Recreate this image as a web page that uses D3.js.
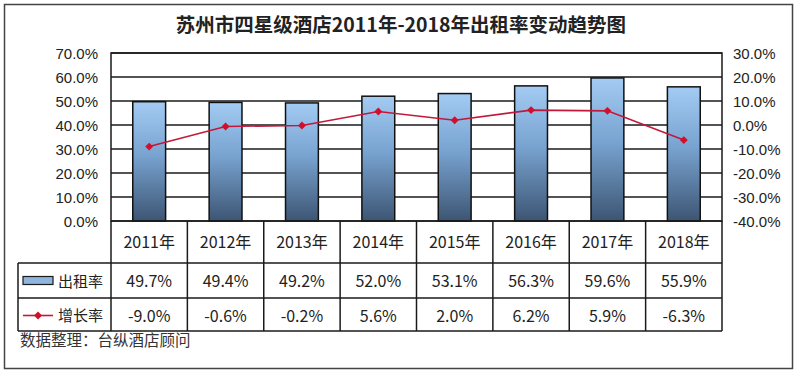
<!DOCTYPE html>
<html>
<head>
<meta charset="utf-8">
<script src="https://cdn.jsdelivr.net/npm/d3@7"></script>
<style>
  body { margin: 0; background: #fff; }
  text { font-family: "Liberation Sans", Arial, sans-serif; fill: #222; }
  .cjk { font-family: "Noto Sans CJK SC", sans-serif; }
</style>
</head>
<body>
<div id="chart"></div>
<script>
let years = ["2011年", "2012年", "2013年", "2014年", "2015年", "2016年", "2017年", "2018年"];
let occupancy = [49.7, 49.4, 49.2, 52.0, 53.1, 56.3, 59.6, 55.9];
let growth = [-9.0, -0.6, -0.2, 5.6, 2.0, 6.2, 5.9, -6.3];
let leftTicks = [0, 10, 20, 30, 40, 50, 60, 70];
let rightTicks = [-40, -30, -20, -10, 0, 10, 20, 30];
let seriesNames = ["出租率", "增长率"];
let title = "苏州市四星级酒店2011年-2018年出租率变动趋势图";
let source = "数据整理：台纵酒店顾问";

let W = 800, H = 376;
let plot = {left: 111, right: 722, top: 53, bottom: 221};
let rowH = [42, 35, 33];
let tableLeft = 18;

let svg = d3.select("#chart").append("svg")
    .attr("width", W)
    .attr("height", H);

let defs = svg.append("defs");
let grad = defs.append("linearGradient")
    .attr("id", "barGrad")
    .attr("x1", 0).attr("y1", 0).attr("x2", 0).attr("y2", 1);
grad.append("stop").attr("offset", "0%").attr("stop-color", "#a3cbf3");
grad.append("stop").attr("offset", "45%").attr("stop-color", "#78a3d0");
grad.append("stop").attr("offset", "100%").attr("stop-color", "#3d5573");

// outer frame
svg.append("rect")
    .attr("x", 4.5).attr("y", 4.5)
    .attr("width", 788).attr("height", 364)
    .attr("fill", "#fff")
    .attr("stroke", "#444")
    .attr("stroke-width", 1.5);

svg.append("text")
    .attr("class", "cjk")
    .attr("x", 401)
    .attr("y", 32)
    .attr("text-anchor", "middle")
    .style("font-size", "19.5px")
    .style("font-weight", "bold")
    .text(title);

let x = d3.scaleBand()
    .domain(years)
    .range([plot.left, plot.right])
    .paddingInner(0.57)
    .paddingOuter(0.285);

let slot = d3.scaleBand()
    .domain(years)
    .range([plot.left, plot.right]);

let y = d3.scaleLinear()
    .domain([0, 70])
    .range([plot.bottom, plot.top]);

let y2 = d3.scaleLinear()
    .domain([-40, 30])
    .range([plot.bottom, plot.top]);

// gridlines
svg.append("g")
    .selectAll("line")
    .data(leftTicks)
    .enter()
    .append("line")
    .attr("x1", plot.left)
    .attr("x2", plot.right)
    .attr("y1", d => y(d))
    .attr("y2", d => y(d))
    .attr("stroke", "#1a1a1a")
    .attr("stroke-width", 1.4);

// left axis
let axL = svg.append("g")
    .attr("transform", "translate(" + plot.left + ",0)")
    .call(d3.axisLeft(y).tickValues(leftTicks).tickSize(0).tickPadding(13)
        .tickFormat(d => d.toFixed(1) + "%"));
axL.select(".domain").remove();
axL.selectAll("text").style("font-size", "15px").style("fill", "#222").attr("dy", "0.35em");

// right axis
let axR = svg.append("g")
    .attr("transform", "translate(" + plot.right + ",0)")
    .call(d3.axisRight(y2).tickValues(rightTicks).tickSize(0).tickPadding(11)
        .tickFormat(d => d.toFixed(1) + "%"));
axR.select(".domain").remove();
axR.selectAll("text").style("font-size", "15px").style("fill", "#222").attr("dy", "0.35em");

// bars
svg.append("g")
    .selectAll("rect")
    .data(occupancy)
    .enter()
    .append("rect")
    .attr("x", (d, i) => x(years[i]))
    .attr("y", d => y(d))
    .attr("width", x.bandwidth())
    .attr("height", d => y(0) - y(d))
    .attr("fill", "url(#barGrad)")
    .attr("stroke", "#111")
    .attr("stroke-width", 1.5);

// growth line
let line = d3.line()
    .x((d, i) => slot(years[i]) + slot.bandwidth() / 2)
    .y(d => y2(d));

svg.append("path")
    .datum(growth)
    .attr("d", line)
    .attr("fill", "none")
    .attr("stroke", "#c2183c")
    .attr("stroke-width", 1.6);

let diamond = d3.symbol().type(d3.symbolDiamond2).size(40);
svg.append("g")
    .selectAll("path")
    .data(growth)
    .enter()
    .append("path")
    .attr("d", diamond)
    .attr("transform", (d, i) => "translate(" + (slot(years[i]) + slot.bandwidth() / 2) + "," + y2(d) + ")")
    .attr("fill", "#d0102a");

// plot border
svg.append("rect")
    .attr("x", plot.left).attr("y", plot.top)
    .attr("width", plot.right - plot.left)
    .attr("height", plot.bottom - plot.top)
    .attr("fill", "none")
    .attr("stroke", "#1a1a1a")
    .attr("stroke-width", 1.5);

// data table
let r0 = plot.bottom, r1 = r0 + rowH[0], r2 = r1 + rowH[1], r3 = r2 + rowH[2];
let tbl = svg.append("g").attr("stroke", "#1a1a1a").attr("stroke-width", 1.5);

tbl.selectAll("line.v")
    .data(years.concat(["end"]))
    .enter()
    .append("line")
    .attr("x1", (d, i) => plot.left + i * slot.bandwidth())
    .attr("x2", (d, i) => plot.left + i * slot.bandwidth())
    .attr("y1", r0)
    .attr("y2", r3);

[r1, r2, r3].forEach(function (ry) {
    tbl.append("line")
        .attr("x1", tableLeft).attr("x2", plot.right)
        .attr("y1", ry).attr("y2", ry);
});
tbl.append("line")
    .attr("x1", tableLeft).attr("x2", tableLeft)
    .attr("y1", r1).attr("y2", r3);

svg.append("g")
    .selectAll("text")
    .data(years)
    .enter()
    .append("text")
    .attr("class", "cjk")
    .attr("x", d => slot(d) + slot.bandwidth() / 2)
    .attr("y", (r0 + r1) / 2)
    .attr("dy", "0.35em")
    .attr("text-anchor", "middle")
    .style("font-size", "16px")
    .text(d => d);

let rows = [occupancy, growth];
rows.forEach(function (vals, ri) {
    let cy = ri === 0 ? (r1 + r2) / 2 + 1 : (r2 + r3) / 2 + 1.5;
    svg.append("g")
        .selectAll("text")
        .data(vals)
        .enter()
        .append("text")
        .attr("class", "cjk")
        .attr("x", (d, i) => slot(years[i]) + slot.bandwidth() / 2)
        .attr("y", cy)
        .attr("dy", "0.35em")
        .attr("text-anchor", "middle")
        .style("font-size", "16px")
        .text(d => d.toFixed(1) + "%");

    svg.append("text")
        .attr("class", "cjk")
        .attr("x", 58)
        .attr("y", cy)
        .attr("dy", "0.35em")
        .style("font-size", "15px")
        .text(seriesNames[ri]);
});

// legend keys
let k1 = (r1 + r2) / 2, k2 = (r2 + r3) / 2 + 1;
svg.append("rect")
    .attr("x", 23).attr("y", k1 - 4)
    .attr("width", 30).attr("height", 8)
    .attr("fill", "#8fb4de")
    .attr("stroke", "#1a1a1a")
    .attr("stroke-width", 1.2);
svg.append("line")
    .attr("x1", 23).attr("x2", 53)
    .attr("y1", k2).attr("y2", k2)
    .attr("stroke", "#c2183c")
    .attr("stroke-width", 1.6);
svg.append("path")
    .attr("d", diamond)
    .attr("transform", "translate(38," + k2 + ")")
    .attr("fill", "#d0102a");

svg.append("text")
    .attr("class", "cjk")
    .attr("x", 20)
    .attr("y", 346)
    .style("font-size", "15.5px")
    .style("fill", "#333")
    .text(source);
</script>
</body>
</html>
